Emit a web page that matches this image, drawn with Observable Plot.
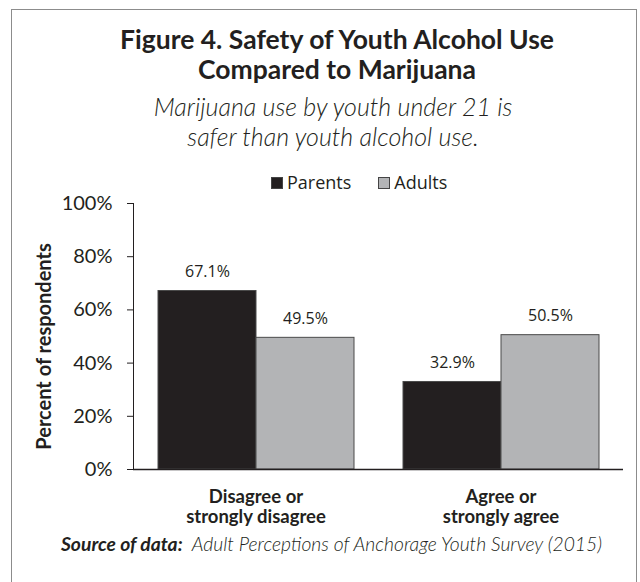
<!DOCTYPE html>
<html><head><meta charset="utf-8">
<script src="https://cdn.jsdelivr.net/npm/d3@7"></script>
<script src="https://cdn.jsdelivr.net/npm/@observablehq/plot@0.6"></script>
<style>
html,body{margin:0;padding:0;background:#fff;}
#page{position:relative;width:640px;height:582px;overflow:hidden;font-family:Lato,sans-serif;color:#231f20;}
#frame{position:absolute;left:11px;top:9px;width:626px;height:600px;border:1.5px solid #8c8c8c;box-sizing:border-box;}
#title{position:absolute;left:37px;width:600px;top:24px;text-align:center;font-weight:700;font-size:26.5px;line-height:30px;}
#subtitle{position:absolute;left:33px;width:600px;top:91px;text-align:center;font-style:italic;font-weight:300;font-size:25px;line-height:30px;}
#legend{position:absolute;left:271px;top:172px;display:flex;align-items:baseline;font-family:"Open Sans",sans-serif;font-size:18px;line-height:20px;}
#legend .item{display:flex;align-items:baseline;margin-right:27px;}
#legend .sw{display:inline-block;width:12px;height:12px;box-sizing:border-box;border:1px solid #444;margin-right:4px;}
#chart{position:absolute;left:0;top:195px;}
#caption{position:absolute;left:0;width:663px;top:533px;text-align:center;font-size:19.3px;line-height:22px;font-style:italic;}
#caption b{font-weight:700;}
#caption span{font-weight:300;}
g[aria-label="y-axis tick label"]{font-weight:400;font-size:20px;}
g[aria-label="fx-axis tick label"]{font-weight:700;}
</style></head>
<body><div id="page">
<div id="frame"></div>
<div id="title"></div>
<div id="subtitle"></div>
<div id="legend"></div>
<div id="chart"></div>
<div id="caption"></div>
</div>
<script>
const titleLines = ["Figure 4. Safety of Youth Alcohol Use", "Compared to Marijuana"];
const subtitleLines = ["Marijuana use by youth under 21 is", "safer than youth alcohol use."];
const categories = ["Disagree or\nstrongly disagree", "Agree or\nstrongly agree"];
const series = ["Parents", "Adults"];
const colors = ["#231f20", "#b3b4b6"];
const parentsValues = [67.1, 32.9];
const adultsValues = [49.5, 50.5];
const yTicks = [0, 20, 40, 60, 80, 100];
const yLabel = "Percent of respondents";
const sourceLabel = "Source of data:";
const sourceText = "Adult Perceptions of Anchorage Youth Survey (2015)";

document.getElementById("title").innerHTML = titleLines.join("<br>");
document.getElementById("subtitle").innerHTML = subtitleLines.join("<br>");
const legend = document.getElementById("legend");
series.forEach((s, i) => {
  const item = document.createElement("div");
  item.className = "item";
  const sw = document.createElement("span");
  sw.className = "sw";
  sw.style.background = colors[i];
  const t = document.createElement("span");
  t.textContent = s;
  item.appendChild(sw); item.appendChild(t);
  legend.appendChild(item);
});
const cap = document.getElementById("caption");
const b = document.createElement("b"); b.textContent = sourceLabel;
const sp = document.createElement("span"); sp.textContent = "\u00a0 " + sourceText;
cap.appendChild(b); cap.appendChild(sp);

const data = [];
categories.forEach((c, i) => {
  data.push({category: c, group: series[0], value: parentsValues[i]});
  data.push({category: c, group: series[1], value: adultsValues[i]});
});

const chart = Plot.plot({
  width: 640,
  height: 345,
  marginTop: 8,
  marginBottom: 71,
  marginLeft: 133,
  marginRight: 17,
  style: {fontFamily: "Lato, sans-serif", fontSize: "18px", color: "#231f20", background: "transparent", overflow: "visible"},
  fx: {domain: categories, padding: 0, axis: null},
  x: {domain: series, paddingInner: 0, paddingOuter: 0.25, axis: null},
  y: {domain: [0, 100], ticks: yTicks, tickFormat: d => d + "%", tickSize: 6, tickPadding: 15, line: true, label: null},
  color: {domain: series, range: colors},
  marks: [
    Plot.barY(data, {fx: "category", x: "group", y: "value", fill: "group", stroke: "#4a4a4a", strokeWidth: 1, inset: 0}),
    Plot.text(data, {fx: "category", x: "group", y: "value", text: d => d.value.toFixed(1) + "%", dy: -14, lineAnchor: "bottom",
      fontFamily: "Open Sans, sans-serif", fontSize: 16, fill: "#231f20"}),
    Plot.ruleY([0], {stroke: "#231f20", strokeWidth: 1.3}),
    Plot.text([yLabel], {fx: () => categories[0], text: d => d, frameAnchor: "left", textAnchor: "middle", rotate: -90, dx: -89, dy: 10,
      fontSize: 20, fontWeight: "bold", fill: "#231f20"}),
    Plot.axisFx({anchor: "bottom", tickSize: 0, tickPadding: 19, label: null, fontSize: 18.5, lineHeight: 1.08, fontWeight: "bold"})
  ]
});
document.getElementById("chart").appendChild(chart);
</script>
</body></html>
